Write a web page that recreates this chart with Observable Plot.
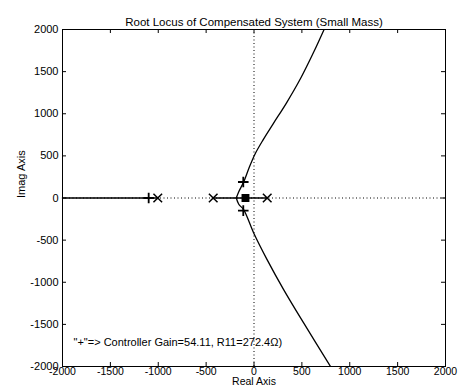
<!DOCTYPE html>
<html>
<head>
<meta charset="utf-8">
<script src="https://cdn.jsdelivr.net/npm/d3@7"></script>
<script src="https://cdn.jsdelivr.net/npm/@observablehq/plot@0.6"></script>
<style>
  html, body { margin: 0; padding: 0; background: white; }
</style>
</head>
<body>
<div id="chart"></div>
<script>
const titleText = "Root Locus of Compensated System (Small Mass)";
const xLabel = "Real Axis";
const yLabel = "Imag Axis";
const noteText = "\"+\"=> Controller Gain=54.11, R11=272.4Ω)";

const xTicks = [-2000, -1500, -1000, -500, 0, 500, 1000, 1500, 2000];
const yTicks = [-2000, -1500, -1000, -500, 0, 500, 1000, 1500, 2000];

// open-loop poles (x marks)
const poleX = [-1005, -426, 138];
const poleY = [0, 0, 0];
// cluster near -90 (filled square)
const clusterX = [-89];
const clusterY = [0];
// gain markers (+)
const gainX = [-1100, -112, -112];
const gainY = [0, 190, -150];

// real-axis locus segments
const seg1X = [-2000, -1005];
const seg2X = [-426, 138];

// complex branches
const upperX = [-185, -159, -107, -54, 10, 95, 200, 340, 486, 625, 732];
const upperY = [0, 74, 192, 350, 520, 690, 880, 1130, 1418, 1735, 2000];
const lowerX = [-185, -159, -107, -2, 138, 311, 520, 799];
const lowerY = [0, -74, -140, -418, -734, -1090, -1486, -2000];

const zip = (xs, ys) => xs.map((x, i) => ({x, y: ys[i]}));
const upper = zip(upperX, upperY);
const lower = zip(lowerX, lowerY);
const seg1 = seg1X.map(x => ({x, y: 0}));
const seg2 = seg2X.map(x => ({x, y: 0}));
const poles = zip(poleX, poleY);
const cluster = zip(clusterX, clusterY);
const gains = zip(gainX, gainY);

const W = 464, H = 388, mT = 29, mR = 19, mB = 22, mL = 62;
const fw = W - mL - mR, fh = H - mT - mB, tk = 4;

const chart = Plot.plot({
  width: W, height: H,
  marginTop: mT, marginRight: mR, marginBottom: mB, marginLeft: mL,
  style: {fontFamily: "'Liberation Sans', Arial, sans-serif", fontSize: "11px", background: "white", color: "black", overflow: "visible"},
  x: {domain: [-2000, 2000]},
  y: {domain: [-2000, 2000]},
  marks: [
    Plot.ruleX([0], {stroke: "black", strokeDasharray: "1,2.5", strokeWidth: 1}),
    Plot.ruleY([0], {stroke: "black", strokeDasharray: "1,2.5", strokeWidth: 1}),
    Plot.frame({stroke: "black", strokeWidth: 1}),
    Plot.tickX(xTicks, {x: d => d, insetTop: fh - tk, stroke: "black"}),
    Plot.tickX(xTicks, {x: d => d, insetBottom: fh - tk, stroke: "black"}),
    Plot.tickY(yTicks, {y: d => d, insetRight: fw - tk, stroke: "black"}),
    Plot.tickY(yTicks, {y: d => d, insetLeft: fw - tk, stroke: "black"}),
    Plot.axisX({ticks: xTicks, tickSize: 0, tickPadding: 1, tickFormat: d => String(d), label: null, fontSize: 10.5}),
    Plot.axisY({ticks: yTicks, tickSize: 0, tickPadding: 4, tickFormat: d => String(d), label: null, fontSize: 11}),
    Plot.line(seg1, {x: "x", y: "y", stroke: "black", strokeWidth: 1.5}),
    Plot.line(seg2, {x: "x", y: "y", stroke: "black", strokeWidth: 1.5}),
    Plot.line(upper, {x: "x", y: "y", stroke: "black", strokeWidth: 1.3, curve: "catmull-rom", clip: true}),
    Plot.line(lower, {x: "x", y: "y", stroke: "black", strokeWidth: 1.3, curve: "catmull-rom", clip: true}),
    Plot.dot(poles, {x: "x", y: "y", symbol: "times", r: 4, stroke: "black", strokeWidth: 1.5}),
    Plot.dot(cluster, {x: "x", y: "y", symbol: "square", r: 3.6, fill: "black", stroke: "black"}),
    Plot.dot(gains, {x: "x", y: "y", symbol: "plus", r: 3.5, stroke: "black", strokeWidth: 1.8}),
    Plot.text([noteText], {x: -1885, y: -1715, text: d => d, textAnchor: "start", fontSize: 11, fill: "black"}),
    Plot.text([titleText], {frameAnchor: "top", dy: -12, text: d => d, fontSize: 11.5, fill: "black"}),
    Plot.text([xLabel], {frameAnchor: "bottom", dy: 18.5, text: d => d, fontSize: 10.5, fill: "black"}),
    Plot.text([yLabel], {frameAnchor: "left", dx: -41, rotate: -90, text: d => d, fontSize: 11, fill: "black"})
  ]
});
document.getElementById("chart").appendChild(chart);
</script>
</body>
</html>
